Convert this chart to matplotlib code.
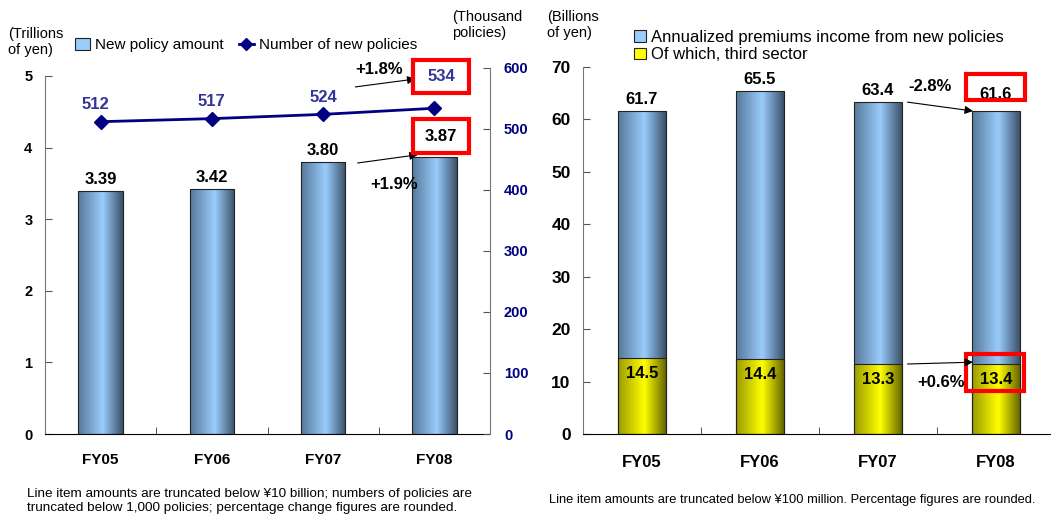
import numpy as np
import matplotlib
matplotlib.use("Agg")
import matplotlib.pyplot as plt
from matplotlib.colors import LinearSegmentedColormap
from matplotlib.patches import Rectangle, Patch
from matplotlib.lines import Line2D

plt.rcParams['font.family'] = ['Liberation Sans', 'DejaVu Sans']

# ---- data ----
years = ["FY05", "FY06", "FY07", "FY08"]
policy_amount = [3.39, 3.42, 3.80, 3.87]          # trillions of yen
policy_count = [512, 517, 524, 534]                # thousand policies
annual_premiums = [61.7, 65.5, 63.4, 61.6]        # billions of yen
third_sector = [14.5, 14.4, 13.3, 13.4]           # billions of yen
amount_change = "+1.9%"
count_change = "+1.8%"
premium_change = "-2.8%"
third_change = "+0.6%"
left_yticks = [0, 1, 2, 3, 4, 5]
right_yticks = [0, 100, 200, 300, 400, 500, 600]
premium_yticks = [0, 10, 20, 30, 40, 50, 60, 70]

W, H = 1051, 517
fig = plt.figure(figsize=(W / 100, H / 100), dpi=100)

blue_cmap = LinearSegmentedColormap.from_list(
    "bluebar", [(0, "#56789a"), (0.55, "#9accfc"), (1, "#3a5068")])
yellow_cmap = LinearSegmentedColormap.from_list(
    "yellowbar", [(0, "#9a9a00"), (0.55, "#ffff00"), (1, "#666600")])
NAVY = "#000080"
LABEL_BLUE = "#333399"
RED = "#ff0000"


def shade_bars(ax, bars, cmap):
    grad = np.linspace(0, 1, 256).reshape(1, -1)
    for b in bars:
        x, y, w, h = b.get_x(), b.get_y(), b.get_width(), b.get_height()
        im = ax.imshow(grad, extent=[x, x + w, y, y + h], aspect="auto",
                       cmap=cmap, zorder=1.5, interpolation="bilinear")
        im.set_clip_path(b)


def px_axes(l, r, top, bottom=434):
    return fig.add_axes([l / W, (H - bottom) / H, (r - l) / W, (bottom - top) / H])


x = np.arange(len(years))

# ================= left chart =================
ax = px_axes(45, 490, 68)
ax.set_xlim(-0.5, 3.5)
ax.set_ylim(0, 5 * 366 / 358)
bars = ax.bar(x, policy_amount, width=0.4, facecolor="none",
              edgecolor="#222222", linewidth=0.8, zorder=2)
shade_bars(ax, bars, blue_cmap)
ax.set_xlim(-0.5, 3.5)
ax.set_ylim(0, 5 * 366 / 358)
ax.set_yticks(left_yticks)
ax.set_yticklabels([str(t) for t in left_yticks], fontsize=10.5, fontweight="bold")
ax.set_xticks(x)
ax.set_xticklabels(years, fontsize=11, fontweight="bold")
ax.set_xticks([0.5, 1.5, 2.5], minor=True)
ax.tick_params(axis="x", which="major", length=0, pad=14)
ax.tick_params(axis="x", which="minor", direction="in", length=5, color="#333333")
ax.tick_params(axis="y", direction="in", length=5, pad=9, color="#555555")
for s in ["top", "right"]:
    ax.spines[s].set_visible(False)
ax.spines["left"].set_color("#777777")
ax.spines["left"].set_bounds(0, 5)
ax.spines["bottom"].set_color("black")

for i, v in enumerate(policy_amount[:3]):
    ax.text(x[i], v + 0.06, f"{v:.2f}", ha="center", va="bottom",
            fontsize=12, fontweight="bold")
ax.text(3.06, 4.16, f"{policy_amount[3]:.2f}", ha="center", va="center",
        fontsize=12, fontweight="bold", zorder=5)
ax.add_patch(Rectangle((2.805, 3.92), 0.51, 0.48, fill=False, edgecolor=RED,
                       linewidth=3, clip_on=False, zorder=5))
ax.annotate("", xy=(2.85, 3.90), xytext=(2.31, 3.785),
            arrowprops=dict(arrowstyle="-|>", color="black", lw=0.8,
                            mutation_scale=12, shrinkA=0, shrinkB=0))
ax.text(2.64, 3.48, amount_change, ha="center", va="center",
        fontsize=12, fontweight="bold")

ax2 = ax.twinx()
ax2.set_ylim(0, 600)
ax2.plot(x, policy_count, color=NAVY, lw=2, marker="D", markersize=7, zorder=3)
ax2.set_yticks(right_yticks)
ax2.set_yticklabels([str(t) for t in right_yticks], fontsize=10.5,
                    fontweight="bold", color=NAVY)
ax2.tick_params(axis="y", direction="in", length=5, pad=10, color="#555555")
for s in ["top", "left", "bottom"]:
    ax2.spines[s].set_visible(False)
ax2.spines["right"].set_color("#777777")
ax2.set_xlim(-0.5, 3.5)

label_dx = [-0.05, 0.0, 0.0]
for i, v in enumerate(policy_count[:3]):
    ax2.text(x[i] + label_dx[i], v + 28, str(v), ha="center", va="center",
             fontsize=12, fontweight="bold", color=LABEL_BLUE)
ax2.text(3.06, 586, str(policy_count[3]), ha="center", va="center",
         fontsize=12, fontweight="bold", color=LABEL_BLUE, zorder=5)
ax2.add_patch(Rectangle((2.805, 559), 0.51, 54, fill=False, edgecolor=RED,
                        linewidth=3, clip_on=False, zorder=5))
ax2.annotate("", xy=(2.83, 582), xytext=(2.29, 569),
             arrowprops=dict(arrowstyle="-|>", color="black", lw=0.8,
                             mutation_scale=12, shrinkA=0, shrinkB=0),
             annotation_clip=False)
ax2.text(2.50, 597, count_change, ha="center", va="center",
         fontsize=12, fontweight="bold", clip_on=False)

fig.text(8 / W, 1 - 42 / H, "(Trillions\nof yen)", ha="left", va="center",
         fontsize=10.5, linespacing=1.2)
fig.text(452 / W, 1 - 25 / H, "(Thousand\npolicies)", ha="left", va="center",
         fontsize=10.5, linespacing=1.2)

left_handles = [Patch(facecolor="#9accfc", edgecolor="#222222", linewidth=0.8),
                Line2D([], [], color=NAVY, lw=2, marker="D", markersize=6)]
fig.legend(left_handles, ["New policy amount", "Number of new policies"],
           loc="center left", bbox_to_anchor=(75 / W, 1 - 45 / H), ncol=2,
           frameon=False, fontsize=11, handlelength=1.0, handleheight=0.8,
           handletextpad=0.3, columnspacing=1.0, borderpad=0, borderaxespad=0)

fig.text(27 / W, 1 - 501 / H,
         "Line item amounts are truncated below ¥10 billion; numbers of policies are\n"
         "truncated below 1,000 policies; percentage change figures are rounded.",
         ha="left", va="center", fontsize=9.7, linespacing=1.2)

# ================= right chart =================
bx = px_axes(583, 583 + 4 * 118, 67)
bx.set_xlim(-0.5, 3.5)
bx.set_ylim(0, 70)
tbars = bx.bar(x, annual_premiums, width=0.4, facecolor="none",
               edgecolor="#222222", linewidth=0.8, zorder=2)
shade_bars(bx, tbars, blue_cmap)
sbars = bx.bar(x, third_sector, width=0.4, facecolor="none",
               edgecolor="#222222", linewidth=0.8, zorder=2.2)
shade_bars(bx, sbars, yellow_cmap)
bx.set_xlim(-0.5, 3.5)
bx.set_ylim(0, 70)
bx.set_yticks(premium_yticks)
bx.set_yticklabels([str(t) for t in premium_yticks], fontsize=12.5, fontweight="bold")
bx.set_xticks(x)
bx.set_xticklabels(years, fontsize=12, fontweight="bold")
bx.set_xticks([0.5, 1.5, 2.5], minor=True)
bx.tick_params(axis="x", which="major", length=0, pad=15)
bx.tick_params(axis="x", which="minor", direction="in", length=5, color="#333333")
bx.tick_params(axis="y", direction="in", length=5, pad=9, color="#555555")
for s in ["top", "right"]:
    bx.spines[s].set_visible(False)
bx.spines["left"].set_color("#777777")
bx.spines["bottom"].set_color("black")

for i, v in enumerate(annual_premiums[:3]):
    bx.text(x[i], v + 0.6, f"{v:.1f}", ha="center", va="bottom",
            fontsize=12, fontweight="bold")
bx.text(3.0, 64.8, f"{annual_premiums[3]:.1f}", ha="center", va="center",
        fontsize=12, fontweight="bold", zorder=5)
bx.add_patch(Rectangle((2.745, 63.7), 0.5, 5.0, fill=False, edgecolor=RED,
                       linewidth=3, clip_on=False, zorder=5))
for i, v in enumerate(third_sector):
    bx.text(x[i], v - 3.0, f"{v:.1f}", ha="center", va="center",
            fontsize=12, fontweight="bold", zorder=5)
bx.add_patch(Rectangle((2.745, 8.2), 0.49, 7.06, fill=False, edgecolor=RED,
                       linewidth=3, clip_on=False, zorder=5))

bx.annotate("", xy=(2.805, 61.6), xytext=(2.25, 63.3),
            arrowprops=dict(arrowstyle="-|>", color="black", lw=0.8,
                            mutation_scale=12, shrinkA=0, shrinkB=0))
bx.text(2.44, 66.2, premium_change, ha="center", va="center",
        fontsize=12, fontweight="bold")
bx.annotate("", xy=(2.805, 13.7), xytext=(2.25, 13.35),
            arrowprops=dict(arrowstyle="-|>", color="black", lw=0.8,
                            mutation_scale=12, shrinkA=0, shrinkB=0), zorder=6)
bx.text(2.53, 9.9, third_change, ha="center", va="center",
        fontsize=12, fontweight="bold")

fig.text(547 / W, 1 - 25 / H, "(Billions\nof yen)", ha="left", va="center",
         fontsize=10.5, linespacing=1.2)

right_handles = [Patch(facecolor="#9accfc", edgecolor="#222222", linewidth=0.8),
                 Patch(facecolor="#ffff00", edgecolor="#222222", linewidth=0.8)]
fig.legend(right_handles, ["Annualized premiums income from new policies",
                           "Of which, third sector"],
           loc="center left", bbox_to_anchor=(634 / W, 1 - 46 / H), ncol=1,
           frameon=False, fontsize=12, handlelength=0.7, handleheight=0.7,
           handletextpad=0.3, labelspacing=0.15, borderpad=0, borderaxespad=0)

fig.text(549 / W, 1 - 500 / H,
         "Line item amounts are truncated below ¥100 million. Percentage figures are rounded.",
         ha="left", va="center", fontsize=9.3)

fig.savefig("out.png", dpi=100)
